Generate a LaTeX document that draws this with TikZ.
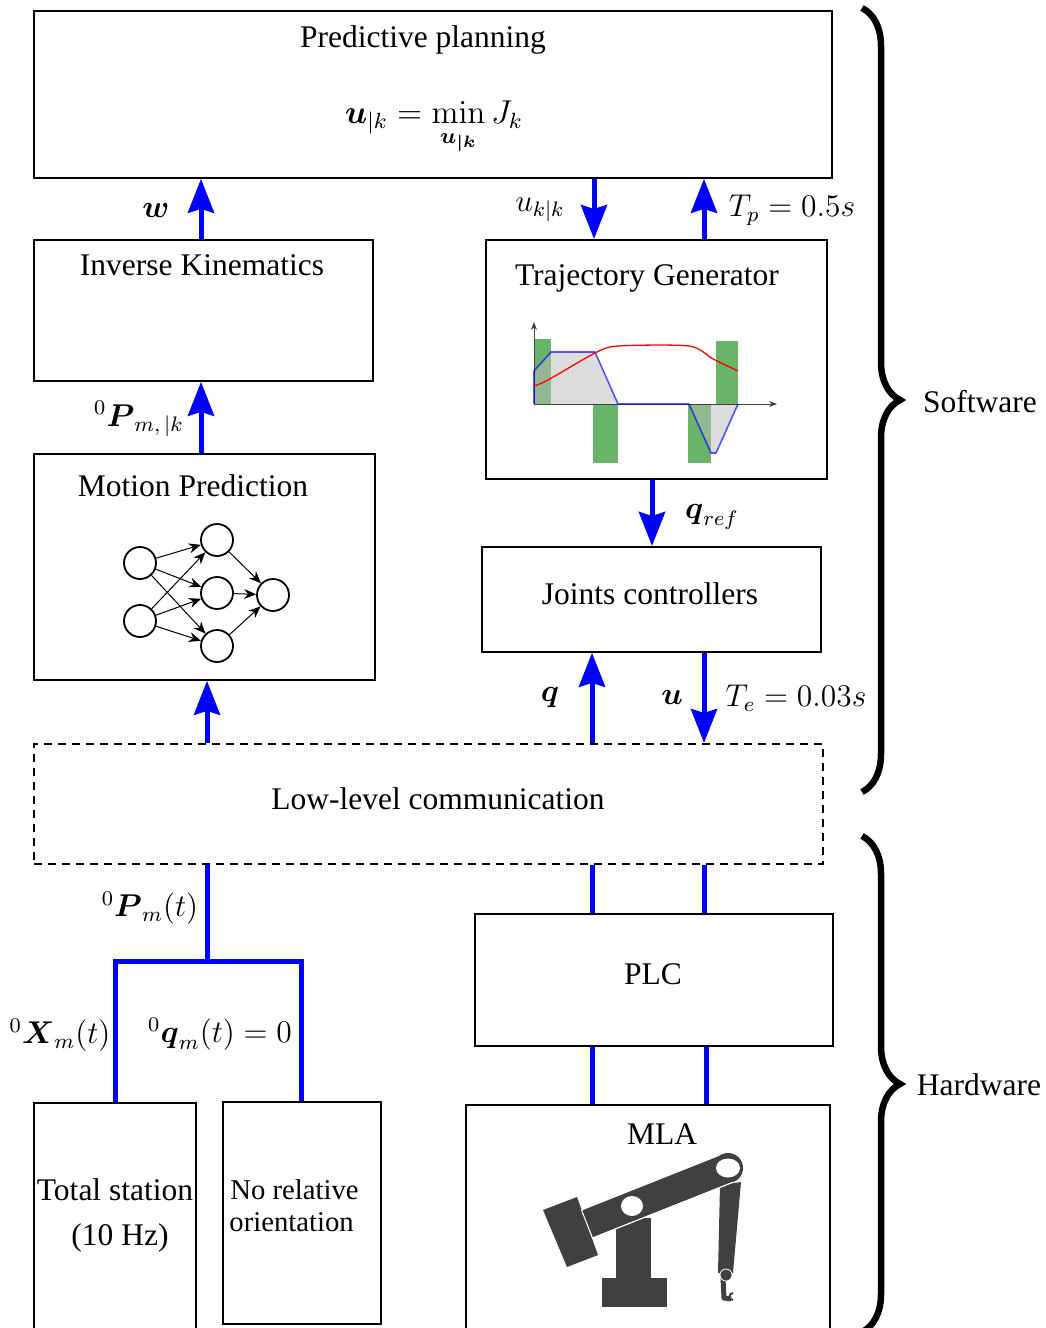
\documentclass[tikz,border=0pt]{standalone}
\usepackage{amsmath}
\usepackage[no-math]{fontspec}
\setmainfont{Liberation Serif}
\usetikzlibrary{arrows.meta, decorations.pathreplacing, calc}

\definecolor{barg}{RGB}{106,180,106}
\definecolor{robot}{RGB}{64,64,64}
\definecolor{areagray}{RGB}{187,187,187}

\begin{document}
\begin{tikzpicture}[x=1pt, y=-1pt,
  every node/.style={inner sep=0pt},
  txt/.style={font=\fontsize{12}{14.4}\selectfont, scale=2.625},
  box/.style={draw=black, line width=1.8pt, anchor=north west, inner sep=0pt},
  flow/.style={draw=blue, line width=5pt, -{Stealth[length=34pt,width=26pt,inset=4pt]}},
  link/.style={draw=blue, line width=5pt, line join=miter},
  neuron/.style={circle, draw=black, line width=1.8pt, minimum size=32pt},
  nnarrow/.style={draw=black, line width=1pt, -{Stealth[length=12pt,width=10pt]}},
  brc/.style={draw=black, line width=6.5pt, decorate, decoration={brace, amplitude=38pt}},
]
\useasboundingbox (0,0) rectangle (1046,1328);

% ---------------- blocks ----------------
\node[box, minimum width=798pt, minimum height=167pt] (pp) at (33,10) {};
\node[box, minimum width=339pt, minimum height=141pt] (ik) at (33,239) {};
\node[box, minimum width=341pt, minimum height=239pt] (tg) at (485,239) {};
\node[box, minimum width=341pt, minimum height=226pt] (mp) at (33,453) {};
\node[box, minimum width=339pt, minimum height=105pt] (jc) at (481,546) {};
\node[box, dashed, dash pattern=on 8pt off 6pt, minimum width=789pt, minimum height=120pt] (llc) at (33,743) {};
\node[box, minimum width=358pt, minimum height=132pt] (plc) at (474,913) {};
\node[box, minimum width=364pt, minimum height=240pt] (mla) at (465,1104) {};
\node[box, minimum width=162pt, minimum height=240pt] (ts) at (33,1102) {};
\node[box, minimum width=158pt, minimum height=222pt] (nro) at (222,1101) {};

% ---------------- block texts ----------------
\node[txt] (tpp) at (423,40) {Predictive planning};
\node[txt, scale=1.05] (fpp) at (434,128) {$\displaystyle \boldsymbol{u}_{|k} = \min_{\boldsymbol{u_{|k}}} J_k$};
\node[txt] (tik) at (202,265) {Inverse Kinematics};
\node[txt] (ttg) at (647,278) {Trajectory Generator};
\node[txt] (tmp) at (193,486) {Motion Prediction};
\node[txt] (tjc) at (650,594) {Joints controllers};
\node[txt] (tll) at (438,799) {Low-level communication};
\node[txt] (tplc) at (653,974) {PLC};
\node[txt] (tmla) at (662,1134) {MLA};
\node[txt] (tts1) at (115,1190) {Total station};
\node[txt] (tts2) at (120,1238) {(10 Hz)};
\node[txt, scale=0.91, anchor=west] (tnr1) at (230,1190) {No relative};
\node[txt, scale=0.91, anchor=west] (tnr2) at (229,1222) {orientation};

% ---------------- connector columns ----------------
\coordinate (xik) at (201,0);
\coordinate (xuk) at (594,0);
\coordinate (xtp) at (704,0);
\coordinate (xqr) at (652,0);
\coordinate (xq)  at (592,0);
\coordinate (xu)  at (704,0);
\coordinate (xmp) at (207,0);
\coordinate (xml) at (706,0);

\draw[flow] (ik.north -| xik) -- (pp.south -| xik);
\draw[flow] (pp.south -| xuk) -- (tg.north -| xuk);
\draw[flow] (tg.north -| xtp) -- (pp.south -| xtp);
\draw[flow] (mp.north -| xik) -- (ik.south -| xik);
\draw[flow] (tg.south -| xqr) -- (jc.north -| xqr);
\draw[flow] (llc.north -| xq) -- (jc.south -| xq);
\draw[flow] (jc.south -| xu) -- (llc.north -| xu);
\draw[flow] (llc.north -| xmp) -- (mp.south -| xmp);

\draw[link] (llc.south -| xq) -- (plc.north -| xq);
\draw[link] (llc.south -| xu) -- (plc.north -| xu);
\draw[link] (plc.south -| xq) -- (mla.north -| xq);
\draw[link] (plc.south -| xml) -- (mla.north -| xml);

\coordinate (jn) at (207,961);
\coordinate (jl) at (115,961);
\coordinate (jr) at (301,961);
\draw[link] (llc.south -| xmp) -- (jn);
\draw[link] (ts.north -| jl) -- (jl) -- (jr) -- (nro.north -| jr);

% ---------------- signal labels ----------------
\node[txt] (lw)  at (156,210) {$\boldsymbol{w}$};
\node[txt] (luk) at (540,210) {$u_{k|k}$};
\node[txt] (ltp) at (792,210) {$T_p = 0.5s$};
\node[txt] (lpm) at (139,419) {$^0\boldsymbol{P}_{m,\,|k}$};
\node[txt] (lqr) at (712,517) {$\boldsymbol{q}_{ref}$};
\node[txt] (lq)  at (550,698) {$\boldsymbol{q}$};
\node[txt] (lu)  at (672,697) {$\boldsymbol{u}$};
\node[txt] (lte) at (796,698) {$T_e = 0.03s$};
\node[txt] (lpt) at (150,908) {$^0\boldsymbol{P}_m(t)$};
\node[txt] (lxm) at (60,1035) {$^0\boldsymbol{X}_m(t)$};
\node[txt] (lqm) at (220,1034) {$^0\boldsymbol{q}_m(t) = 0$};

% ---------------- braces ----------------
\draw[brc] (862,8) -- (862,792);
\draw[brc] (862,836) -- (862,1332);
\node[txt] (lsw) at (980,402) {Software};
\node[txt] (lhw) at (979,1085) {Hardware};

% ---------------- neural network ----------------
\node[neuron] (i1) at (140,563) {};
\node[neuron] (i2) at (140,621) {};
\node[neuron] (h1) at (217,540) {};
\node[neuron] (h2) at (217,593) {};
\node[neuron] (h3) at (217,646) {};
\node[neuron] (o1) at (273,595) {};
\foreach \a in {i1,i2}{\foreach \b in {h1,h2,h3}{\draw[nnarrow] (\a) -- (\b);}}
\foreach \a in {h1,h2,h3}{\draw[nnarrow] (\a) -- (o1);}

% ---------------- trajectory profile ----------------
\fill[barg] (534,339) rectangle (551,404);
\fill[barg] (593,404) rectangle (618,463);
\fill[barg] (688,404) rectangle (711,463);
\fill[barg] (716,341) rectangle (738,404);
\fill[areagray, fill opacity=0.5] (534,404) -- (534,371) -- (551,352) -- (595,352) -- (618,404) -- cycle;
\fill[areagray, fill opacity=0.5] (689,404) -- (711,453) -- (716,453) -- (738,404) -- cycle;
\draw[line width=1pt, black!75, -{Stealth[length=8pt,width=6pt]}] (534,404) -- (777,404);
\draw[line width=1pt, black!75, -{Stealth[length=8pt,width=6pt]}] (534,404) -- (534,322);
\draw[blue, draw opacity=0.65, line width=1.6pt, line join=round]
  (534,404) -- (534,371) -- (551,352) -- (595,352) -- (618,404) -- (689,404)
  -- (711,453) -- (716,453) -- (738,404);
\draw[red, line width=1.3pt] plot[smooth, tension=0.45] coordinates
  {(534,386) (548,380) (595,353) (618,346) (689,346) (713,359) (738,371)};

% ---------------- manipulator ----------------
\fill[robot] (616,1218) rectangle (651,1278);
\fill[robot] (602,1278) rectangle (667,1307);
\fill[robot] (543,1210) -- (577,1197) -- (598,1255) -- (567,1267) -- cycle;
\fill[robot] (720,1185) -- (741,1182) -- (733,1273) -- (718,1273) -- cycle;
\draw[white, line width=1pt, fill=robot] (581.5,1210) -- (722.5,1154) -- (733.5,1182) -- (592.5,1238) -- cycle;
\fill[robot] (728,1168) circle[radius=15pt];
\draw[white, line width=0.8pt] (592.5,1238) -- (733.5,1182);
\fill[white] (632,1206) ellipse[x radius=11pt, y radius=10pt];
\fill[white] (728,1168) ellipse[x radius=12pt, y radius=9.5pt];
\draw[robot, line width=5pt, line join=round] (723,1278) -- (724,1298) -- (731,1299);
\draw[white, fill=robot, line width=0.8pt] (726,1275) circle[radius=6pt];
\draw[robot, line width=2pt] (733,1293) arc[start angle=90, end angle=270, radius=3.5pt];
\end{tikzpicture}
\end{document}
